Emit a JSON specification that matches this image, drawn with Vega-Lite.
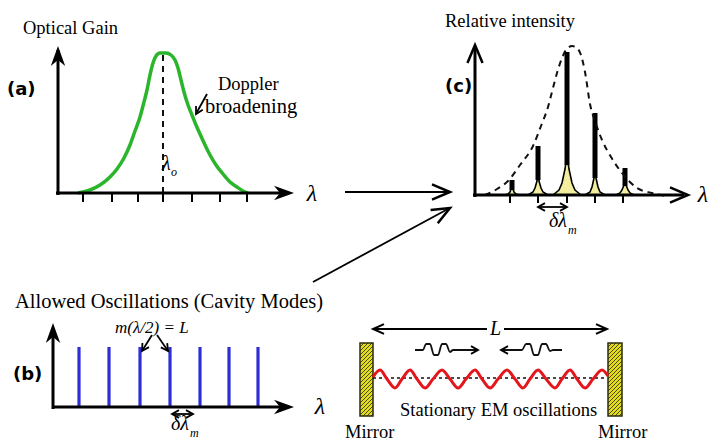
{
  "$schema": "https://vega.github.io/schema/vega-lite/v6.json",
  "width": 708,
  "height": 447,
  "padding": 0,
  "autosize": {"type": "none"},
  "background": "white",
  "config": {"view": {"stroke": null}},
  "datasets": {
    "axes": [
      {"x": 58, "y": 195, "x2": 58, "y2": 50},
      {"x": 56, "y": 193, "x2": 289, "y2": 193},
      {"x": 53, "y": 409, "x2": 53, "y2": 328},
      {"x": 53, "y": 407, "x2": 289, "y2": 407},
      {"x": 475, "y": 197, "x2": 475, "y2": 48},
      {"x": 473, "y": 195, "x2": 684, "y2": 195}
    ],
    "ticks": [
      {"x": 83, "y": 193, "x2": 83, "y2": 202},
      {"x": 112, "y": 193, "x2": 112, "y2": 202},
      {"x": 138, "y": 193, "x2": 138, "y2": 202},
      {"x": 163, "y": 193, "x2": 163, "y2": 202},
      {"x": 192, "y": 193, "x2": 192, "y2": 202},
      {"x": 220, "y": 193, "x2": 220, "y2": 202},
      {"x": 247, "y": 193, "x2": 247, "y2": 202},
      {"x": 510, "y": 195, "x2": 510, "y2": 203},
      {"x": 538, "y": 195, "x2": 538, "y2": 203},
      {"x": 567, "y": 195, "x2": 567, "y2": 203},
      {"x": 595, "y": 195, "x2": 595, "y2": 203},
      {"x": 623, "y": 195, "x2": 623, "y2": 203}
    ],
    "thin": [
      {"x": 345, "y": 192, "x2": 447, "y2": 192},
      {"x": 313, "y": 282, "x2": 447, "y2": 209.5},
      {"x": 375, "y": 329, "x2": 487, "y2": 329},
      {"x": 504, "y": 329, "x2": 605, "y2": 329},
      {"x": 173, "y": 414, "x2": 192, "y2": 414},
      {"x": 539, "y": 207, "x2": 566, "y2": 207},
      {"x": 152, "y": 335, "x2": 142, "y2": 351},
      {"x": 157, "y": 335, "x2": 168, "y2": 351},
      {"x": 207, "y": 94, "x2": 197, "y2": 112}
    ],
    "modes": [
      {"x": 79, "y": 347, "x2": 79, "y2": 407},
      {"x": 109, "y": 347, "x2": 109, "y2": 407},
      {"x": 140, "y": 347, "x2": 140, "y2": 407},
      {"x": 170, "y": 347, "x2": 170, "y2": 407},
      {"x": 200, "y": 347, "x2": 200, "y2": 407},
      {"x": 229, "y": 347, "x2": 229, "y2": 407},
      {"x": 258, "y": 347, "x2": 258, "y2": 407}
    ],
    "centre": [{"x": 163, "y": 55, "x2": 163, "y2": 193}],
    "axisline": [{"x": 373, "y": 378, "x2": 607, "y2": 378}],
    "hatch": [
      {"x": 360, "y": 347, "x2": 364, "y2": 343}, {"x": 360, "y": 351, "x2": 368, "y2": 343}, {"x": 360, "y": 355, "x2": 372, "y2": 343},
      {"x": 360, "y": 359, "x2": 373, "y2": 346}, {"x": 360, "y": 363, "x2": 373, "y2": 350}, {"x": 360, "y": 367, "x2": 373, "y2": 354},
      {"x": 360, "y": 371, "x2": 373, "y2": 358}, {"x": 360, "y": 375, "x2": 373, "y2": 362}, {"x": 360, "y": 379, "x2": 373, "y2": 366},
      {"x": 360, "y": 383, "x2": 373, "y2": 370}, {"x": 360, "y": 387, "x2": 373, "y2": 374}, {"x": 360, "y": 391, "x2": 373, "y2": 378},
      {"x": 360, "y": 395, "x2": 373, "y2": 382}, {"x": 360, "y": 399, "x2": 373, "y2": 386}, {"x": 360, "y": 403, "x2": 373, "y2": 390},
      {"x": 360, "y": 407, "x2": 373, "y2": 394}, {"x": 360, "y": 411, "x2": 373, "y2": 398}, {"x": 360, "y": 415, "x2": 373, "y2": 402},
      {"x": 363, "y": 416, "x2": 373, "y2": 406}, {"x": 367, "y": 416, "x2": 373, "y2": 410}, {"x": 371, "y": 416, "x2": 373, "y2": 414},
      {"x": 608, "y": 347, "x2": 612, "y2": 343}, {"x": 608, "y": 351, "x2": 616, "y2": 343}, {"x": 608, "y": 355, "x2": 620, "y2": 343},
      {"x": 608, "y": 359, "x2": 622, "y2": 345}, {"x": 608, "y": 363, "x2": 622, "y2": 349}, {"x": 608, "y": 367, "x2": 622, "y2": 353},
      {"x": 608, "y": 371, "x2": 622, "y2": 357}, {"x": 608, "y": 375, "x2": 622, "y2": 361}, {"x": 608, "y": 379, "x2": 622, "y2": 365},
      {"x": 608, "y": 383, "x2": 622, "y2": 369}, {"x": 608, "y": 387, "x2": 622, "y2": 373}, {"x": 608, "y": 391, "x2": 622, "y2": 377},
      {"x": 608, "y": 395, "x2": 622, "y2": 381}, {"x": 608, "y": 399, "x2": 622, "y2": 385}, {"x": 608, "y": 403, "x2": 622, "y2": 389},
      {"x": 608, "y": 407, "x2": 622, "y2": 393}, {"x": 608, "y": 411, "x2": 622, "y2": 397}, {"x": 608, "y": 415, "x2": 622, "y2": 401},
      {"x": 611, "y": 416, "x2": 622, "y2": 405}, {"x": 615, "y": 416, "x2": 622, "y2": 409}, {"x": 619, "y": 416, "x2": 622, "y2": 413}
    ],
    "headsFilled": [
      {"x": 58, "y": 46, "a": 270},
      {"x": 294, "y": 193, "a": 0},
      {"x": 53, "y": 323, "a": 270},
      {"x": 294, "y": 407, "a": 0}
    ],
    "headsBig": [
      {"x": 475, "y": 45, "a": 270},
      {"x": 688, "y": 195, "a": 0},
      {"x": 450, "y": 192, "a": 0},
      {"x": 450, "y": 208, "a": 331.6}
    ],
    "headsMed": [
      {"x": 373, "y": 329, "a": 180},
      {"x": 607, "y": 329, "a": 0}
    ],
    "headsSmall": [
      {"x": 172, "y": 414, "a": 180},
      {"x": 193, "y": 414, "a": 0},
      {"x": 538, "y": 207, "a": 180},
      {"x": 567, "y": 207, "a": 0},
      {"x": 142, "y": 351, "a": 122},
      {"x": 168, "y": 351, "a": 55.5},
      {"x": 478, "y": 350, "a": 0},
      {"x": 501, "y": 350, "a": 180},
      {"x": 196, "y": 114, "a": 119}
    ],
    "gain": [
      {"x": 78, "y": 193}, {"x": 90, "y": 190}, {"x": 100, "y": 185}, {"x": 110, "y": 177},
      {"x": 117, "y": 169}, {"x": 124, "y": 158}, {"x": 130, "y": 145}, {"x": 135, "y": 131},
      {"x": 140, "y": 117}, {"x": 144, "y": 102}, {"x": 147, "y": 90}, {"x": 150, "y": 75},
      {"x": 153, "y": 63}, {"x": 156, "y": 56}, {"x": 160, "y": 53}, {"x": 166, "y": 53},
      {"x": 171, "y": 55}, {"x": 175, "y": 60}, {"x": 178, "y": 68}, {"x": 181, "y": 80},
      {"x": 184, "y": 92}, {"x": 188, "y": 105}, {"x": 192, "y": 115}, {"x": 196, "y": 125},
      {"x": 200, "y": 134}, {"x": 205, "y": 145}, {"x": 210, "y": 155}, {"x": 216, "y": 165},
      {"x": 223, "y": 174}, {"x": 230, "y": 182}, {"x": 237, "y": 187}, {"x": 243, "y": 191},
      {"x": 248, "y": 193}
    ],
    "envelope": [
      {"x": 485, "y": 195}, {"x": 497, "y": 189}, {"x": 508, "y": 181}, {"x": 520, "y": 165},
      {"x": 533, "y": 146}, {"x": 541, "y": 126}, {"x": 548, "y": 107}, {"x": 553, "y": 88},
      {"x": 557, "y": 73}, {"x": 562, "y": 58}, {"x": 566, "y": 50}, {"x": 572, "y": 46},
      {"x": 577, "y": 48}, {"x": 581, "y": 55}, {"x": 585, "y": 72}, {"x": 590, "y": 104},
      {"x": 596, "y": 124}, {"x": 602, "y": 140}, {"x": 611, "y": 157}, {"x": 622, "y": 173},
      {"x": 637, "y": 188}, {"x": 652, "y": 193}, {"x": 667, "y": 196}
    ],
    "yellow": [
      {"p": 1, "x": 504, "y": 195}, {"p": 1, "x": 508, "y": 194}, {"p": 1, "x": 510, "y": 192}, {"p": 1, "x": 511, "y": 189}, {"p": 1, "x": 512, "y": 186}, {"p": 1, "x": 513, "y": 189}, {"p": 1, "x": 514, "y": 192}, {"p": 1, "x": 516, "y": 194}, {"p": 1, "x": 520, "y": 195},
      {"p": 2, "x": 528, "y": 195}, {"p": 2, "x": 533, "y": 192}, {"p": 2, "x": 535, "y": 188}, {"p": 2, "x": 537, "y": 181}, {"p": 2, "x": 538, "y": 173}, {"p": 2, "x": 539, "y": 181}, {"p": 2, "x": 541, "y": 188}, {"p": 2, "x": 543, "y": 192}, {"p": 2, "x": 548, "y": 195},
      {"p": 3, "x": 553, "y": 195}, {"p": 3, "x": 559, "y": 190}, {"p": 3, "x": 562, "y": 183}, {"p": 3, "x": 565, "y": 169}, {"p": 3, "x": 567, "y": 155}, {"p": 3, "x": 569, "y": 169}, {"p": 3, "x": 572, "y": 183}, {"p": 3, "x": 575, "y": 190}, {"p": 3, "x": 581, "y": 195},
      {"p": 4, "x": 585, "y": 195}, {"p": 4, "x": 590, "y": 192}, {"p": 4, "x": 592, "y": 187}, {"p": 4, "x": 594, "y": 178}, {"p": 4, "x": 595, "y": 168}, {"p": 4, "x": 596, "y": 178}, {"p": 4, "x": 598, "y": 187}, {"p": 4, "x": 600, "y": 192}, {"p": 4, "x": 605, "y": 195},
      {"p": 5, "x": 616, "y": 195}, {"p": 5, "x": 620, "y": 193}, {"p": 5, "x": 622, "y": 190}, {"p": 5, "x": 624, "y": 185}, {"p": 5, "x": 625, "y": 180}, {"p": 5, "x": 626, "y": 185}, {"p": 5, "x": 628, "y": 190}, {"p": 5, "x": 630, "y": 193}, {"p": 5, "x": 634, "y": 195}
    ],
    "spikes": [
      {"x": 512, "y": 180, "y2": 190},
      {"x": 538, "y": 146, "y2": 180},
      {"x": 567, "y": 52, "y2": 165},
      {"x": 595, "y": 113, "y2": 178},
      {"x": 625, "y": 168, "y2": 186}
    ],
    "wave": [
      {"x": 373, "y": 377}, {"x": 380, "y": 370}, {"x": 387, "y": 379}, {"x": 395, "y": 388},
      {"x": 402, "y": 379}, {"x": 410, "y": 370}, {"x": 417, "y": 379}, {"x": 425, "y": 388},
      {"x": 433, "y": 379}, {"x": 442, "y": 370}, {"x": 450, "y": 379}, {"x": 458, "y": 388},
      {"x": 466, "y": 379}, {"x": 475, "y": 370}, {"x": 482, "y": 379}, {"x": 490, "y": 388},
      {"x": 498, "y": 379}, {"x": 507, "y": 370}, {"x": 515, "y": 379}, {"x": 523, "y": 388},
      {"x": 530, "y": 379}, {"x": 538, "y": 370}, {"x": 546, "y": 379}, {"x": 555, "y": 388},
      {"x": 562, "y": 379}, {"x": 570, "y": 370}, {"x": 577, "y": 379}, {"x": 585, "y": 388},
      {"x": 593, "y": 379}, {"x": 602, "y": 370}, {"x": 608, "y": 376}
    ],
    "wiggles": [
      {"w": 1, "x": 415, "y": 350}, {"w": 1, "x": 423, "y": 350}, {"w": 1, "x": 426, "y": 344}, {"w": 1, "x": 430, "y": 344}, {"w": 1, "x": 434, "y": 355}, {"w": 1, "x": 438, "y": 355}, {"w": 1, "x": 442, "y": 344}, {"w": 1, "x": 446, "y": 344}, {"w": 1, "x": 450, "y": 352}, {"w": 1, "x": 453, "y": 350}, {"w": 1, "x": 477, "y": 350},
      {"w": 2, "x": 502, "y": 350}, {"w": 2, "x": 522, "y": 350}, {"w": 2, "x": 526, "y": 344}, {"w": 2, "x": 530, "y": 344}, {"w": 2, "x": 534, "y": 355}, {"w": 2, "x": 538, "y": 355}, {"w": 2, "x": 542, "y": 344}, {"w": 2, "x": 546, "y": 344}, {"w": 2, "x": 550, "y": 351}, {"w": 2, "x": 553, "y": 350}, {"w": 2, "x": 562, "y": 350}
    ],
    "mirrors": [
      {"x": 360, "x2": 373, "y": 343, "y2": 416},
      {"x": 608, "x2": 622, "y": 343, "y2": 416}
    ],
    "labels": [
      {"x": 23, "y": 28, "t": "Optical Gain"},
      {"x": 445, "y": 21, "t": "Relative intensity"},
      {"x": 218, "y": 84, "t": "Doppler"},
      {"x": 400, "y": 410, "t": "Stationary EM oscillations"},
      {"x": 345, "y": 432, "t": "Mirror"},
      {"x": 598, "y": 432, "t": "Mirror"}
    ],
    "labelsWide": [
      {"x": 15, "y": 302, "t": "Allowed Oscillations (Cavity Modes)"},
      {"x": 205, "y": 107, "t": "broadening"}
    ],
    "panels": [
      {"x": 7, "y": 90, "t": "(a)"},
      {"x": 13, "y": 375, "t": "(b)"},
      {"x": 445, "y": 87, "t": "(c)"}
    ],
    "lambdaAxis": [
      {"x": 312, "y": 194, "t": "λ"},
      {"x": 320, "y": 407, "t": "λ"},
      {"x": 703, "y": 195, "t": "λ"}
    ],
    "symbols": [
      {"x": 162, "y": 164, "t": "λ"},
      {"x": 490, "y": 329, "t": "L"},
      {"x": 171, "y": 424, "t": "δλ"},
      {"x": 549, "y": 221, "t": "δλ"}
    ],
    "formula": [{"x": 115, "y": 328, "t": "m(λ/2) = L"}],
    "subs": [
      {"x": 171, "y": 172, "t": "o"},
      {"x": 190, "y": 433, "t": "m"},
      {"x": 568, "y": 230, "t": "m"}
    ]
  },
  "encoding": {
    "x": {"field": "x", "type": "quantitative", "scale": {"domain": [0, 708], "nice": false, "zero": false}, "axis": null},
    "y": {"field": "y", "type": "quantitative", "scale": {"domain": [0, 447], "nice": false, "zero": false, "reverse": true}, "axis": null}
  },
  "layer": [
    {
      "data": {"name": "mirrors"},
      "mark": {"type": "rect", "fill": "#e2dc1e"},
      "encoding": {"x2": {"field": "x2"}, "y2": {"field": "y2"}}
    },
    {
      "data": {"name": "hatch"},
      "mark": {"type": "rule", "color": "#4a4610", "strokeWidth": 1},
      "encoding": {"x2": {"field": "x2"}, "y2": {"field": "y2"}}
    },
    {
      "data": {"name": "mirrors"},
      "mark": {"type": "rect", "fill": null, "stroke": "#2a2a10", "strokeWidth": 1.5},
      "encoding": {"x2": {"field": "x2"}, "y2": {"field": "y2"}}
    },
    {
      "data": {"name": "axisline"},
      "mark": {"type": "rule", "color": "#111", "strokeWidth": 1.5, "strokeDash": [3, 3]},
      "encoding": {"x2": {"field": "x2"}, "y2": {"field": "y2"}}
    },
    {
      "data": {"name": "wave"},
      "mark": {"type": "line", "color": "#e3161c", "strokeWidth": 3, "interpolate": "monotone"},
      "encoding": {}
    },
    {
      "data": {"name": "wiggles"},
      "mark": {"type": "line", "color": "#111", "strokeWidth": 1.8, "interpolate": "monotone"},
      "encoding": {"detail": {"field": "w"}}
    },
    {
      "data": {"name": "gain"},
      "mark": {"type": "line", "color": "#2bb52b", "strokeWidth": 3.5, "interpolate": "monotone"},
      "encoding": {}
    },
    {
      "data": {"name": "centre"},
      "mark": {"type": "rule", "color": "#111", "strokeWidth": 2, "strokeDash": [6, 5]},
      "encoding": {"x2": {"field": "x2"}, "y2": {"field": "y2"}}
    },
    {
      "data": {"name": "yellow"},
      "mark": {"type": "area", "color": "#f3ee9e", "opacity": 1},
      "encoding": {"y2": {"datum": 195}, "detail": {"field": "p"}}
    },
    {
      "data": {"name": "yellow"},
      "mark": {"type": "line", "color": "#000", "strokeWidth": 1.6},
      "encoding": {"detail": {"field": "p"}}
    },
    {
      "data": {"name": "spikes"},
      "mark": {"type": "rule", "color": "#000", "strokeWidth": 5},
      "encoding": {"y2": {"field": "y2"}}
    },
    {
      "data": {"name": "envelope"},
      "mark": {"type": "line", "color": "#111", "strokeWidth": 2, "strokeDash": [6, 5], "interpolate": "monotone"},
      "encoding": {}
    },
    {
      "data": {"name": "modes"},
      "mark": {"type": "rule", "color": "#2e2ed6", "strokeWidth": 3.2},
      "encoding": {"x2": {"field": "x2"}, "y2": {"field": "y2"}}
    },
    {
      "data": {"name": "axes"},
      "mark": {"type": "rule", "color": "#000", "strokeWidth": 3},
      "encoding": {"x2": {"field": "x2"}, "y2": {"field": "y2"}}
    },
    {
      "data": {"name": "ticks"},
      "mark": {"type": "rule", "color": "#000", "strokeWidth": 2},
      "encoding": {"x2": {"field": "x2"}, "y2": {"field": "y2"}}
    },
    {
      "data": {"name": "thin"},
      "mark": {"type": "rule", "color": "#000", "strokeWidth": 1.8},
      "encoding": {"x2": {"field": "x2"}, "y2": {"field": "y2"}}
    },
    {
      "data": {"name": "headsFilled"},
      "mark": {"type": "point", "shape": "M0,0L-1,-0.36L-0.7,0L-1,0.36Z", "filled": true, "color": "#000", "size": 1600, "opacity": 1},
      "encoding": {"angle": {"field": "a", "type": "quantitative", "scale": null}}
    },
    {
      "data": {"name": "headsBig"},
      "mark": {"type": "point", "shape": "M-1,-0.42L0,0L-1,0.42", "filled": false, "color": "#000", "size": 1296, "strokeWidth": 2.5, "opacity": 1},
      "encoding": {"angle": {"field": "a", "type": "quantitative", "scale": null}}
    },
    {
      "data": {"name": "headsMed"},
      "mark": {"type": "point", "shape": "M-1,-0.45L0,0L-1,0.45", "filled": false, "color": "#000", "size": 484, "strokeWidth": 2, "opacity": 1},
      "encoding": {"angle": {"field": "a", "type": "quantitative", "scale": null}}
    },
    {
      "data": {"name": "headsSmall"},
      "mark": {"type": "point", "shape": "M-1,-0.55L0,0L-1,0.55", "filled": false, "color": "#000", "size": 196, "strokeWidth": 1.8, "opacity": 1},
      "encoding": {"angle": {"field": "a", "type": "quantitative", "scale": null}}
    },
    {
      "data": {"name": "labels"},
      "mark": {"type": "text", "font": "Liberation Serif", "fontSize": 18.5, "align": "left", "baseline": "middle", "color": "#000"},
      "encoding": {"text": {"field": "t"}}
    },
    {
      "data": {"name": "labelsWide"},
      "mark": {"type": "text", "font": "Liberation Serif", "fontSize": 20.5, "align": "left", "baseline": "middle", "color": "#000"},
      "encoding": {"text": {"field": "t"}}
    },
    {
      "data": {"name": "panels"},
      "mark": {"type": "text", "font": "DejaVu Sans", "fontWeight": "bold", "fontSize": 18, "align": "left", "baseline": "middle", "color": "#000"},
      "encoding": {"text": {"field": "t"}}
    },
    {
      "data": {"name": "lambdaAxis"},
      "mark": {"type": "text", "font": "Liberation Serif", "fontStyle": "italic", "fontSize": 24, "align": "center", "baseline": "middle", "color": "#000"},
      "encoding": {"text": {"field": "t"}}
    },
    {
      "data": {"name": "symbols"},
      "mark": {"type": "text", "font": "Liberation Serif", "fontStyle": "italic", "fontSize": 20, "align": "left", "baseline": "middle", "color": "#000"},
      "encoding": {"text": {"field": "t"}}
    },
    {
      "data": {"name": "formula"},
      "mark": {"type": "text", "font": "Liberation Serif", "fontStyle": "italic", "fontSize": 17, "align": "left", "baseline": "middle", "color": "#000"},
      "encoding": {"text": {"field": "t"}}
    },
    {
      "data": {"name": "subs"},
      "mark": {"type": "text", "font": "Liberation Serif", "fontStyle": "italic", "fontSize": 12, "align": "left", "baseline": "middle", "color": "#000"},
      "encoding": {"text": {"field": "t"}}
    }
  ]
}
